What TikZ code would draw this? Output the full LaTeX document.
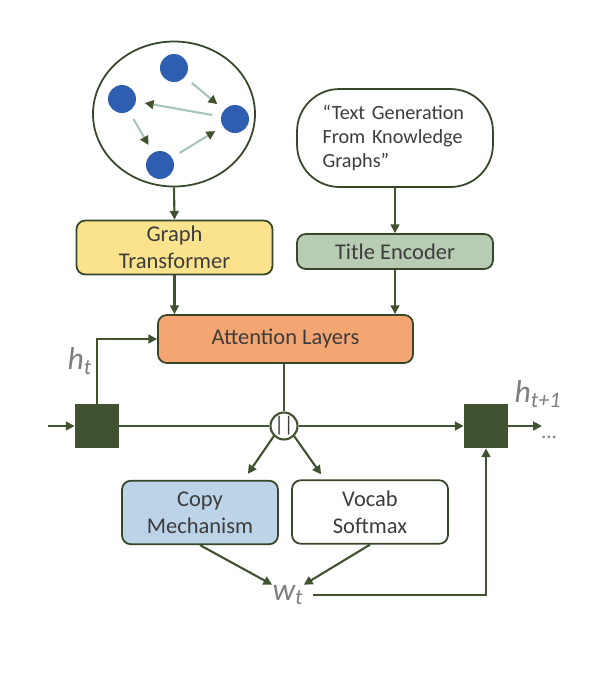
\documentclass[tikz,border=0pt]{standalone}
\usepackage{fontspec}
\setmainfont{Carlito}
\usepackage{xcolor}
\usetikzlibrary{arrows.meta,shapes.geometric,positioning,calc}
\definecolor{linegreen}{RGB}{64,82,48}
\definecolor{gtyellow} {RGB}{251,226,140}
\definecolor{tegreen}  {RGB}{183,204,178}
\definecolor{attorange}{RGB}{244,166,114}
\definecolor{copyblue} {RGB}{189,211,232}
\definecolor{dotblue}  {RGB}{46,94,176}
\definecolor{edgegray} {RGB}{169,197,181}
\definecolor{txtgray}  {RGB}{60,60,60}
\definecolor{lblgray}  {RGB}{127,127,127}
\tikzset{
  mainbox/.style={draw=linegreen!85!black, rounded corners=5pt, align=center,
                  minimum width=#1, text=txtgray, line width=1pt, inner sep=2pt,
                  font=\fontsize{12.8}{15.3}\selectfont},
  mainbox/.default=3.92cm,
  gtbox/.style  ={mainbox, fill=gtyellow, minimum height=1.08cm},
  tebox/.style  ={mainbox, fill=tegreen,  minimum height=0.70cm},
  attbox/.style ={mainbox=5.1cm, fill=attorange, minimum height=0.96cm},
  outbox/.style ={mainbox=3.12cm, minimum height=1.27cm},
  gnode/.style  ={circle, fill=dotblue, minimum size=0.56cm, inner sep=0pt},
  stbox/.style  ={fill=linegreen, minimum size=0.88cm, inner sep=0pt},
  catnode/.style={circle, draw=linegreen, fill=white, line width=1.2pt,
                  minimum size=0.54cm, inner sep=0pt, text=txtgray,
                  font=\fontsize{12}{12}\selectfont},
  lbl/.style    ={text=lblgray, inner sep=0pt,
                  font=\fontsize{18}{18}\selectfont\itshape},
  arr/.style    ={-{Triangle[length=5pt,width=5pt]}, line width=1.2pt, draw=linegreen},
  garr/.style   ={-{Triangle[length=5pt,width=5pt,color=linegreen]},
                  line width=1.2pt, draw=edgegray, shorten <=5pt, shorten >=5pt},
  plainln/.style={line width=1.2pt, draw=linegreen},
}
\begin{document}
\begin{tikzpicture}[x=0.02cm,y=-0.02cm]
  \useasboundingbox (0,0) rectangle (607,681);
  %% knowledge graph
  \node[ellipse, draw=linegreen!85!black, line width=1pt,
        minimum width=3.24cm, minimum height=2.9cm] (kg) at (174,114) {};
  \node[gnode] (v1) at (174,68) {};
  \node[gnode] (v2) at (122,99) {};
  \node[gnode] (v3) at (235,119) {};
  \node[gnode] (v4) at (160,165) {};
  \draw[garr] (v1) -- (v3);
  \draw[garr] (v3) -- (v2);
  \draw[garr] (v2) -- (v4);
  \draw[garr] (v4) -- (v3);
  %% title
  \node[draw=linegreen!85!black, line width=1pt, rounded corners=0.85cm,
        minimum width=3.92cm, minimum height=1.96cm, text width=2.9cm,
        align=left, text=txtgray, font=\fontsize{11.5}{13.7}\selectfont]
        (title) at (395,138) {“Text Generation\\From Knowledge\\Graphs”};
  %% encoders
  \node[gtbox] (gt) at (174.5,247.5) {Graph\\Transformer};
  \node[tebox] (te) at (395,251.5) {Title Encoder};
  \node[attbox] (att) at (285.5,339) {Attention Layers};
  \draw[arr] (kg.south) -- (gt.north);
  \draw[arr] (title.south) -- (te.north);
  \draw[arr] (gt.south) -- (gt.south |- att.north);
  \draw[arr] (te.south) -- (te.south |- att.north);
  %% decoder step
  \node[stbox] (s1) at (97,426) {};
  \node[stbox] (s2) at (486,426) {};
  \node[catnode] (cat) at (284,426) {||};
  \coordinate (in) at (48,426);
  \coordinate (out) at (542,426);
  \draw[arr] (in) -- (s1.west);
  \draw[plainln] (s1.east) -- (cat.west);
  \draw[arr] (cat.east) -- (s2.west);
  \draw[arr] (s2.east) -- (out);
  \draw[arr] (s1.north) |- (att.west);
  \draw[plainln] (cat.north |- att.south) -- (cat.north);
  \node[lbl] (ht) at (80,361) {h\textsubscript{t}};
  \node[lbl] (ht1) at (538,394) {h\textsubscript{t+1}};
  \node[text=lblgray, font=\fontsize{12}{12}\selectfont] (dots) at (549,437) {...};
  %% outputs
  \node[outbox, fill=copyblue] (copy) at (200,512.5) {Copy\\Mechanism};
  \node[outbox] (vocab) at (370,512) {Vocab\\Softmax};
  \draw[arr] (cat.225) -- ($(copy.north east)+(-31,-6)$);
  \draw[arr] (cat.-45) -- ($(vocab.north west)+(30,-5)$);
  \node[lbl] (wt) at (288,595) {w\textsubscript{t}};
  \draw[arr] (copy.south) -- (wt.north west);
  \draw[arr] (vocab.south) -- (wt.north east);
  \draw[arr, shorten <=5pt] (wt.east) -| (s2.south);
\end{tikzpicture}
\end{document}
